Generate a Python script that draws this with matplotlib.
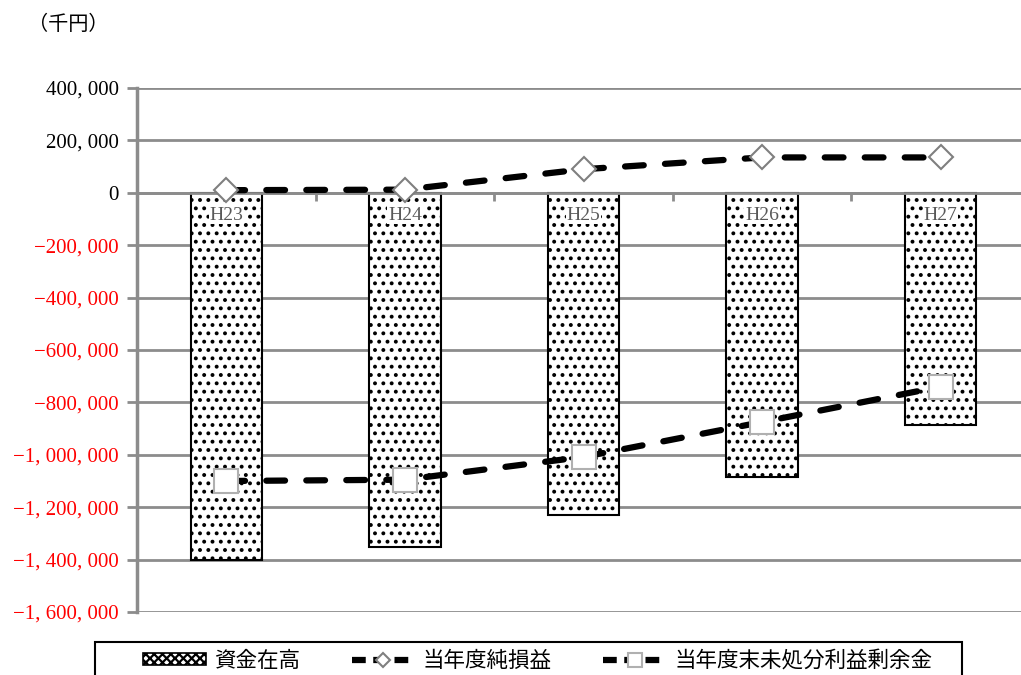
import numpy as np
import matplotlib.pyplot as plt
from matplotlib.ticker import FixedLocator, FuncFormatter
from matplotlib.lines import Line2D
from matplotlib.patches import Patch, Rectangle

plt.rcParams['font.family'] = ['Noto Sans CJK JP', 'DejaVu Sans']
plt.rcParams['hatch.linewidth'] = 1.6

# 年度
years = ['H23', 'H24', 'H25', 'H26', 'H27']
# 資金在高 (千円)
funds = [-1400000, -1350000, -1228000, -1083000, -885000]
# 当年度純損益
net_income = [10000, 12000, 90000, 135000, 135000]
# 当年度末未処分利益剰余金
retained = [-1100000, -1095000, -1008000, -875000, -740000]

x = np.arange(len(years))
serif = ['Liberation Serif', 'DejaVu Serif']

fig = plt.figure(figsize=(10.21, 6.75), dpi=100)
ax = fig.add_axes([137 / 1021, 1 - 612 / 675, 893 / 1021, 524 / 675])

grid_c = '#8c8c8c'
ax.set_ylim(-1600000, 400000)
ax.set_xlim(-0.5, 4.5)
ax.set_yticks(np.arange(-1600000, 400001, 200000))
ax.yaxis.grid(True, color=grid_c, lw=2)
ax.set_axisbelow(True)

def fmt(v, pos):
    s = '{:,}'.format(abs(int(v))).replace(',', ', ')
    return ('\u2212' + s) if v < 0 else s

ax.yaxis.set_major_formatter(FuncFormatter(fmt))
ax.tick_params(axis='y', length=7, width=2, color=grid_c, pad=6)
for s in ['top', 'right']:
    ax.spines[s].set_visible(False)
ax.spines['left'].set_color(grid_c)
ax.spines['left'].set_linewidth(2.5)
ax.spines['bottom'].set_position(('data', 0))
ax.spines['bottom'].set_color(grid_c)
ax.spines['bottom'].set_linewidth(2)

ax.set_xticks(x)
ax.set_xticklabels([])
ax.tick_params(axis='x', which='major', length=0)
ax.xaxis.set_minor_locator(FixedLocator(np.arange(0.5, 4.6, 1)))
ax.tick_params(axis='x', which='minor', length=6, width=2, color=grid_c)

bars = ax.bar(x, funds, width=0.4, color='white', edgecolor='black',
              hatch='..', lw=1.5, zorder=2)

for xi, name in zip(x, years):
    ax.text(xi, -85000, name, ha='center', va='center', fontsize=14,
            color='#595959', family=serif, zorder=3,
            bbox=dict(facecolor='white', edgecolor='none', pad=0.5))

ax.plot(x, net_income, color='black', lw=4.5, dashes=(3.0, 3.4), dash_capstyle='round',
        marker='D', markersize=12, markerfacecolor='white',
        markeredgecolor='#7f7f7f', markeredgewidth=1.5, zorder=4)
ax.plot(x, retained, color='black', lw=4.5, dashes=(3.0, 3.4), dash_capstyle='round',
        marker='s', markersize=17, markerfacecolor='white',
        markeredgecolor='#b0b0b0', markeredgewidth=1.5, zorder=4)

for lbl, v in zip(ax.get_yticklabels(), ax.get_yticks()):
    lbl.set_family(serif)
    lbl.set_fontsize(15)
    lbl.set_color('#ff0000' if v < 0 else 'black')

fig.text(28 / 1021, 1 - 25 / 675, '（千円）', fontsize=14.5, va='center', ha='left')

# legend frame (extends past the bottom edge like the reference)
fig.patches.append(Rectangle((95 / 1021, -0.05), (962 - 95) / 1021, 0.05 + 33 / 675,
                             transform=fig.transFigure, facecolor='white',
                             edgecolor='black', lw=1.5, zorder=0))

handles = [
    Patch(facecolor='white', edgecolor='black', hatch='xxxx', lw=1.2),
    Line2D([], [], color='black', lw=4.5, dashes=(2.2, 1.2), marker='D', markersize=7,
           markerfacecolor='white', markeredgecolor='#7f7f7f', markeredgewidth=1.5),
    Line2D([], [], color='black', lw=4.5, dashes=(2.2, 1.2), marker='s', markersize=10,
           markerfacecolor='white', markeredgecolor='#b0b0b0', markeredgewidth=1.5),
]
leg = fig.legend(handles, ['資金在高', '当年度純損益', '当年度末未処分利益剰余金'],
                 loc='center left', bbox_to_anchor=(128 / 1021, 1 - 661 / 675),
                 ncol=3, fontsize=15.5, frameon=False,
                 handlelength=2.9, handleheight=0.5, handletextpad=0.4,
                 columnspacing=2.4, borderpad=0.2)

fig.savefig('out.png', dpi=100)
